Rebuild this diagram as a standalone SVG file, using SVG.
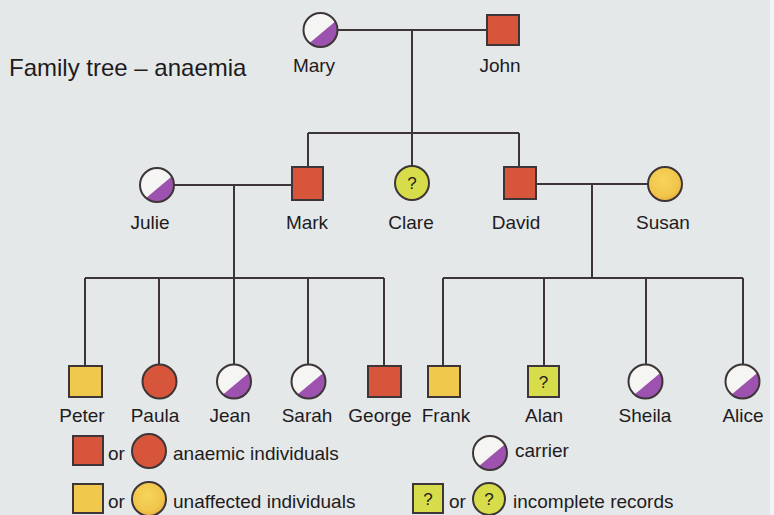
<svg xmlns="http://www.w3.org/2000/svg" xmlns:xlink="http://www.w3.org/1999/xlink" width="774" height="515" viewBox="0 0 774 515">
<defs>
<radialGradient id="yel" cx="45%" cy="40%" r="65%">
<stop offset="0" stop-color="#f6d55a"/>
<stop offset="0.7" stop-color="#f0c54a"/>
<stop offset="1" stop-color="#e8a83c"/>
</radialGradient>
<g id="carrier">
<circle r="17" fill="#f5f5f3"/>
<path d="M14.72,-8.5 A17,17 0 0 1 -10.93,13.02 Z" fill="#9c52ae"/>
<circle r="17" fill="none" stroke="#3d3537" stroke-width="2"/>
</g>
</defs>
<style>
.ln{fill:none;stroke:#3d3537;stroke-width:2}
.sym{stroke:#3d3537;stroke-width:2}
.red{fill:#d6553b}
.yel{fill:url(#yel)}
.ysq{fill:#efc84c}
.inc{fill:#d7dc4a}
.lbl{font-family:"Liberation Sans",Arial,sans-serif;font-size:19px;fill:#1f1b1d;text-anchor:middle}
.leg{font-family:"Liberation Sans",Arial,sans-serif;font-size:19px;fill:#1f1b1d}
.q{font-family:"Liberation Sans",Arial,sans-serif;font-size:17px;fill:#1f1b1d;text-anchor:middle}
.title{font-family:"Liberation Sans",Arial,sans-serif;font-size:24px;fill:#1f1b1d}
</style>
<rect x="0" y="0" width="774" height="515" fill="#e4e8e9"/>
<rect x="770" y="0" width="4" height="515" fill="#f3f4f4"/>

<text class="title" x="9" y="76">Family tree – anaemia</text>

<g id="connectors">
<path class="ln" d="M337,30 H487"/>
<path class="ln" d="M412,30 V133"/>
<path class="ln" d="M308,133 H519"/>
<path class="ln" d="M308,133 V167"/>
<path class="ln" d="M412,133 V166"/>
<path class="ln" d="M519,133 V167"/>
<path class="ln" d="M174,185 H292"/>
<path class="ln" d="M234,185 V278"/>
<path class="ln" d="M536,184 H648"/>
<path class="ln" d="M592,184 V278"/>
<path class="ln" d="M85,278 H384"/>
<path class="ln" d="M85,278 V366"/>
<path class="ln" d="M159,278 V365"/>
<path class="ln" d="M234,278 V365"/>
<path class="ln" d="M308,278 V365"/>
<path class="ln" d="M384,278 V366"/>
<path class="ln" d="M443,278 H743"/>
<path class="ln" d="M443,278 V366"/>
<path class="ln" d="M544,278 V366"/>
<path class="ln" d="M646,278 V365"/>
<path class="ln" d="M743,278 V365"/>
</g>

<g id="mary"><use xlink:href="#carrier" href="#carrier" x="320.5" y="30"/><text class="lbl" x="314" y="72">Mary</text></g>
<g id="john"><rect class="sym red" x="487" y="15" width="32" height="30"/><text class="lbl" x="500" y="72">John</text></g>

<g id="julie"><use xlink:href="#carrier" href="#carrier" x="157" y="185"/><text class="lbl" x="150" y="229">Julie</text></g>
<g id="mark"><rect class="sym red" x="292" y="167" width="31" height="33"/><text class="lbl" x="307" y="229">Mark</text></g>
<g id="clare"><circle class="sym inc" cx="412" cy="183" r="17"/><text class="q" x="412" y="189">?</text><text class="lbl" x="411" y="229">Clare</text></g>
<g id="david"><rect class="sym red" x="504" y="167" width="32" height="32"/><text class="lbl" x="516" y="229">David</text></g>
<g id="susan"><circle class="sym yel" cx="665" cy="184" r="17"/><text class="lbl" x="663" y="229">Susan</text></g>

<g id="peter"><rect class="sym ysq" x="69" y="366" width="33" height="31"/><text class="lbl" x="82" y="422">Peter</text></g>
<g id="paula"><circle class="sym red" cx="159.5" cy="381.5" r="17"/><text class="lbl" x="155" y="422">Paula</text></g>
<g id="jean"><use xlink:href="#carrier" href="#carrier" x="234" y="381.5"/><text class="lbl" x="230" y="422">Jean</text></g>
<g id="sarah"><use xlink:href="#carrier" href="#carrier" x="308.5" y="381.5"/><text class="lbl" x="307" y="422">Sarah</text></g>
<g id="george"><rect class="sym red" x="368" y="366" width="33" height="31"/><text class="lbl" x="380" y="422">George</text></g>
<g id="frank"><rect class="sym ysq" x="428" y="366" width="32" height="31"/><text class="lbl" x="446" y="422">Frank</text></g>
<g id="alan"><rect class="sym inc" x="528" y="366" width="31" height="31"/><text class="q" x="543.5" y="388">?</text><text class="lbl" x="544" y="422">Alan</text></g>
<g id="sheila"><use xlink:href="#carrier" href="#carrier" x="645.5" y="381.5"/><text class="lbl" x="645" y="422">Sheila</text></g>
<g id="alice"><use xlink:href="#carrier" href="#carrier" x="742.5" y="381.5"/><text class="lbl" x="743" y="422">Alice</text></g>

<g id="legend">
<rect class="sym red" x="73" y="436" width="30" height="29"/>
<text class="leg" x="108" y="460">or</text>
<circle class="sym red" cx="149" cy="451" r="17"/>
<text class="leg" x="173" y="460">anaemic individuals</text>
<rect class="sym ysq" x="73" y="484" width="30" height="29"/>
<text class="leg" x="108" y="508">or</text>
<circle class="sym yel" cx="149" cy="499" r="17"/>
<text class="leg" x="173" y="508">unaffected individuals</text>
<use xlink:href="#carrier" href="#carrier" x="490" y="453"/>
<text class="leg" x="515" y="457">carrier</text>
<rect class="sym inc" x="413" y="484" width="30" height="29"/>
<text class="q" x="428" y="505">?</text>
<text class="leg" x="449" y="508">or</text>
<circle class="sym inc" cx="489" cy="499" r="16"/>
<text class="q" x="489" y="505">?</text>
<text class="leg" x="513" y="508">incomplete records</text>
</g>
</svg>
